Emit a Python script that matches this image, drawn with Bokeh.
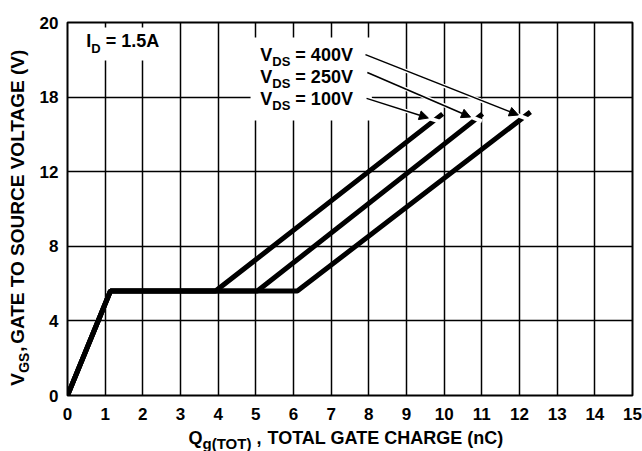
import math
from bokeh.plotting import figure
from bokeh.models import Label, Arrow, NormalHead, FixedTicker
from bokeh.layouts import column, row
from bokeh.embed import file_html
from bokeh.resources import INLINE

# ---- data ----
q_100 = [0, 1.14, 3.93, 9.96]
v_100 = [0, 5.6, 5.6, 15.1]
q_250 = [0, 1.14, 5.04, 11.02]
v_250 = [0, 5.6, 5.6, 15.1]
q_400 = [0, 1.14, 6.10, 12.29]
v_400 = [0, 5.6, 5.6, 15.2]
x_ticks = list(range(0, 16))
y_ticks = [0, 4, 8, 12, 16, 20]
y_tick_labels = ["0", "4", "8", "12", "18", "20"]
vds_names = ["= 400V", "= 250V", "= 100V"]
id_text = "= 1.5A"
x_title = "TOTAL GATE CHARGE (nC)"
y_title = "GATE TO SOURCE VOLTAGE (V)"

FONT = "Liberation Sans"
LEFT_W = 34
MAIN_H = 425
TOTAL_W = 642
BOTTOM_H = 26


def make_label(fig, x, y, parts, angle=0.0):
    for text, size, dx, dy in parts:
        corr = size / 3.0  # alphabetic anchor sits below the real baseline
        if angle:
            dx -= corr
        else:
            dy += corr
        fig.add_layout(Label(x=x, y=y, x_offset=dx, y_offset=dy, text=text, angle=angle,
                             text_font=FONT, text_font_style="bold",
                             text_font_size=f"{size}px", text_color="black",
                             text_align="left", text_baseline="alphabetic"))


def blank_fig(w, h):
    f = figure(width=w, height=h, x_range=(0, w), y_range=(0, h), title=None,
               x_axis_location=None, y_axis_location=None, min_border=0,
               output_backend="svg", toolbar_location=None)
    f.outline_line_color = None
    f.background_fill_color = "white"
    f.border_fill_color = "white"
    f.grid.visible = False
    return f


# ---- main chart ----
p = figure(width=TOTAL_W - LEFT_W, height=MAIN_H, x_range=(0, 15), y_range=(0, 20),
           title=None, output_backend="svg", toolbar_location=None,
           min_border_left=67 - LEFT_W, min_border_right=10,
           min_border_top=22, min_border_bottom=MAIN_H - 395)
p.background_fill_color = "white"
p.border_fill_color = "white"
p.outline_line_color = "black"
p.outline_line_width = 2

p.xaxis.ticker = FixedTicker(ticks=x_ticks)
p.yaxis.ticker = FixedTicker(ticks=y_ticks)
p.yaxis.major_label_overrides = {t: l for t, l in zip(y_ticks, y_tick_labels)}
for ax in (p.xaxis, p.yaxis):
    ax.axis_line_color = None
    ax.major_tick_line_color = None
    ax.minor_tick_line_color = None
    ax.major_tick_in = 0
    ax.major_tick_out = 0
    ax.minor_tick_in = 0
    ax.minor_tick_out = 0
    ax.major_label_text_font = FONT
    ax.major_label_text_font_style = "bold"
    ax.major_label_text_font_size = "17px"
    ax.major_label_text_color = "black"
p.xaxis.major_label_standoff = 12
p.yaxis.major_label_standoff = 9

p.xgrid.ticker = FixedTicker(ticks=x_ticks)
p.ygrid.ticker = FixedTicker(ticks=y_ticks)
p.grid.grid_line_color = "black"
p.grid.grid_line_width = 1.5
p.grid.grid_line_alpha = 1.0

# white boxes behind the in-plot labels (break the grid)
p.quad(left=[0.05, 4.86], right=[2.7, 8.08], bottom=[17.96, 14.75], top=[19.73, 19.2],
       fill_color="white", line_color=None)

# curves
for q, v in ((q_100, v_100), (q_250, v_250), (q_400, v_400)):
    p.line(q, v, line_color="black", line_width=5)

# arrows from labels to curve ends (start, head, end of white halo)
arrows = [
    (7.94, 15.93, 9.58, 14.88, 9.88, 14.68),
    (7.96, 17.32, 10.70, 14.93, 11.00, 14.70),
    (7.91, 18.28, 11.97, 15.04, 12.27, 14.78),
]
p.segment(x0=[a[0] for a in arrows], y0=[a[1] for a in arrows],
          x1=[a[4] for a in arrows], y1=[a[5] for a in arrows],
          line_color="white", line_width=4)
for a in arrows:
    p.add_layout(Arrow(end=NormalHead(size=9, fill_color="black", line_color="black"),
                       x_start=a[0], y_start=a[1], x_end=a[2], y_end=a[3],
                       line_color="black", line_width=1.5))

# I_D label
make_label(p, 0.50, 18.66, [("I", 18, 0, 0), ("D", 13, 5, -5), (id_text, 18, 19.5, 0)])

# V_DS labels
for yy, name in zip([17.96, 16.78, 15.6], vds_names):
    make_label(p, 5.12, yy, [("V", 18, 0, 0), ("DS", 13, 12, -5), (name, 18, 35, 0)])

# ---- y axis title (left strip) ----
left = blank_fig(LEFT_W, MAIN_H)
make_label(left, 23, 11,
           [("V", 19, 0, 0), ("GS", 14, 5, 13), (",", 19, 0, 34), (y_title, 19, 0, 42)],
           angle=math.pi / 2)

# ---- x axis title (bottom strip) ----
bottom = blank_fig(TOTAL_W, BOTTOM_H)
make_label(bottom, 188, 8, [("Q", 18, 0, 0), ("g(TOT)", 15, 14, -5), (",", 18, 68, 0),
                            (x_title, 18, 79, 0)])

layout = column(row(left, p), bottom)
open("out.html", "w").write(file_html(layout, INLINE))
